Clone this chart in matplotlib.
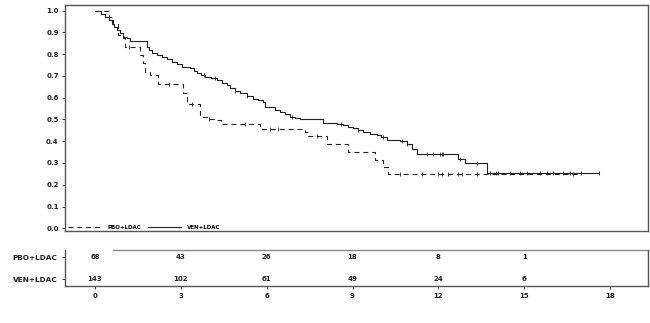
import matplotlib
matplotlib.use("Agg")
import matplotlib.pyplot as plt
from matplotlib.lines import Line2D
import numpy as np

# ---- data ----
ven_t = [0, 0.2, 0.35, 0.5, 0.58, 0.68, 0.76, 0.88, 0.99, 1.1, 1.22, 1.8, 1.9, 1.98, 2.15, 2.33,
         2.5, 2.68, 2.85, 3.03, 3.32, 3.45, 3.55, 3.7, 3.85, 4.05, 4.25, 4.45, 4.6, 4.72, 4.9,
         5.07, 5.3, 5.52, 5.7, 5.87, 5.94, 6.3, 6.47, 6.65, 6.82, 7.0, 7.17, 7.97, 8.45, 8.68,
         8.85, 9.03, 9.2, 9.38, 9.6, 9.85, 10.0, 10.2, 10.66, 10.9, 11.07, 11.25, 12.7, 12.94,
         13.7, 17.6]
ven_s = [1.0, 0.985, 0.97, 0.955, 0.94, 0.925, 0.91, 0.895, 0.88, 0.872, 0.862, 0.834, 0.818, 0.804,
         0.796, 0.788, 0.776, 0.765, 0.753, 0.742, 0.735, 0.723, 0.711, 0.703, 0.696, 0.688, 0.68,
         0.668, 0.658, 0.642, 0.63, 0.619, 0.607, 0.596, 0.588, 0.58, 0.555, 0.545, 0.535, 0.523,
         0.512, 0.505, 0.5, 0.484, 0.478, 0.473, 0.466, 0.459, 0.45, 0.442, 0.435, 0.427, 0.417,
         0.407, 0.4, 0.386, 0.366, 0.34, 0.32, 0.30, 0.253, 0.253]
ven_cens = [3.8, 4.2, 4.9, 5.3, 6.9, 8.6, 9.2, 10.05, 10.72, 10.9, 11.6, 11.83, 12.06, 12.12,
            12.17, 12.76, 13.35, 13.8, 14.0, 14.1, 14.5, 14.86, 15.1, 15.56, 15.79, 16.02,
            16.36, 16.6, 17.0, 17.6]

pbo_t = [0, 0.48, 0.64, 0.82, 0.99, 1.05, 1.57, 1.69, 1.75, 1.92, 2.2, 3.09, 3.2, 3.67, 3.9,
         4.25, 4.4, 5.77, 7.34, 7.45, 8.1, 8.85, 9.8, 10.07, 10.25, 17.0]
pbo_s = [1.0, 0.97, 0.94, 0.888, 0.873, 0.834, 0.796, 0.758, 0.719, 0.704, 0.662, 0.62, 0.573,
         0.511, 0.503, 0.496, 0.478, 0.458, 0.44, 0.423, 0.389, 0.35, 0.312, 0.281, 0.248, 0.248]
pbo_cens = [1.2, 2.6, 3.4, 4.0, 5.24, 6.1, 6.4, 7.76, 10.66, 11.42, 12.0, 12.12, 12.35, 12.7,
            12.82, 13.35, 16.7]

groups = ["PBO+LDAC", "VEN+LDAC"]
risk_times = [0, 3, 6, 9, 12, 15]
pbo_risk = [68, 43, 26, 18, 8, 1]
ven_risk = [143, 102, 61, 49, 24, 6]
x_ticks = [0, 3, 6, 9, 12, 15, 18]
y_ticks = [0.0, 0.1, 0.2, 0.3, 0.4, 0.5, 0.6, 0.7, 0.8, 0.9, 1.0]

plt.rcParams['font.family'] = ['DejaVu Sans']
fig = plt.figure(figsize=(6.5, 3.23), dpi=100)

col = '#222222'
spine_col = '#555555'
xlim = (-1.05, 19.33)

ax = fig.add_axes([0.1, 0.285, 0.897, 0.70])
ax.step(pbo_t, pbo_s, where='post', color=col, lw=0.8, dashes=(4.5, 3.5))
ax.step(ven_t, ven_s, where='post', color=col, lw=0.8)

def surv_at(ts, ss, t):
    idx = np.searchsorted(ts, t, side='right') - 1
    return ss[idx]

ax.plot(pbo_cens, [surv_at(pbo_t, pbo_s, t) for t in pbo_cens], ls='none', marker='|',
        ms=3, mew=0.6, color=col)
ax.plot(ven_cens, [surv_at(ven_t, ven_s, t) for t in ven_cens], ls='none', marker='|',
        ms=3, mew=0.6, color=col)

ax.set_xlim(*xlim)
ax.set_ylim(-0.012, 1.026)
ax.set_yticks(y_ticks)
ax.set_yticklabels([f"{v:.1f}" for v in y_ticks], fontsize=5, fontweight='bold')
ax.set_xticks([])
ax.tick_params(axis='y', length=2.5, width=0.6, pad=2, colors=col)
for s in ax.spines.values():
    s.set_color(spine_col)
    s.set_linewidth(1.0)

handles = [Line2D([], [], color=col, lw=0.8, dashes=(4.5, 3.5)),
           Line2D([], [], color=col, lw=0.8)]
leg = ax.legend(handles, groups, loc='lower left', ncol=2, frameon=False,
                prop={'size': 4, 'weight': 'bold'}, handlelength=6, columnspacing=1.2,
                handletextpad=1.0, borderaxespad=0.2, bbox_to_anchor=(0.0, -0.01))

# risk table
rx = fig.add_axes([0.1, 0.115, 0.897, 0.111])
rx.set_xlim(*xlim)
rx.set_ylim(0, 1)
for t, n in zip(risk_times, pbo_risk):
    rx.text(t, 0.8, str(n), ha='center', va='center', fontsize=5, fontweight='bold', color=col)
for t, n in zip(risk_times, ven_risk):
    rx.text(t, 0.19, str(n), ha='center', va='center', fontsize=5, fontweight='bold', color=col)
rx.set_yticks([0.8, 0.19])
rx.set_yticklabels(groups, fontsize=5.3, fontweight='bold')
rx.set_xticks(x_ticks)
rx.set_xticklabels([str(v) for v in x_ticks], fontsize=5, fontweight='bold')
rx.tick_params(axis='both', length=2.5, width=0.6, pad=3, colors=col)
rx.spines['top'].set_visible(False)
for k in ['left', 'right', 'bottom']:
    rx.spines[k].set_color(spine_col)
    rx.spines[k].set_linewidth(1.0)
rx.axhline(1.0, xmin=0.082, xmax=1.0, color='#888888', lw=1.0, clip_on=False)

fig.savefig("out.png", dpi=100)
